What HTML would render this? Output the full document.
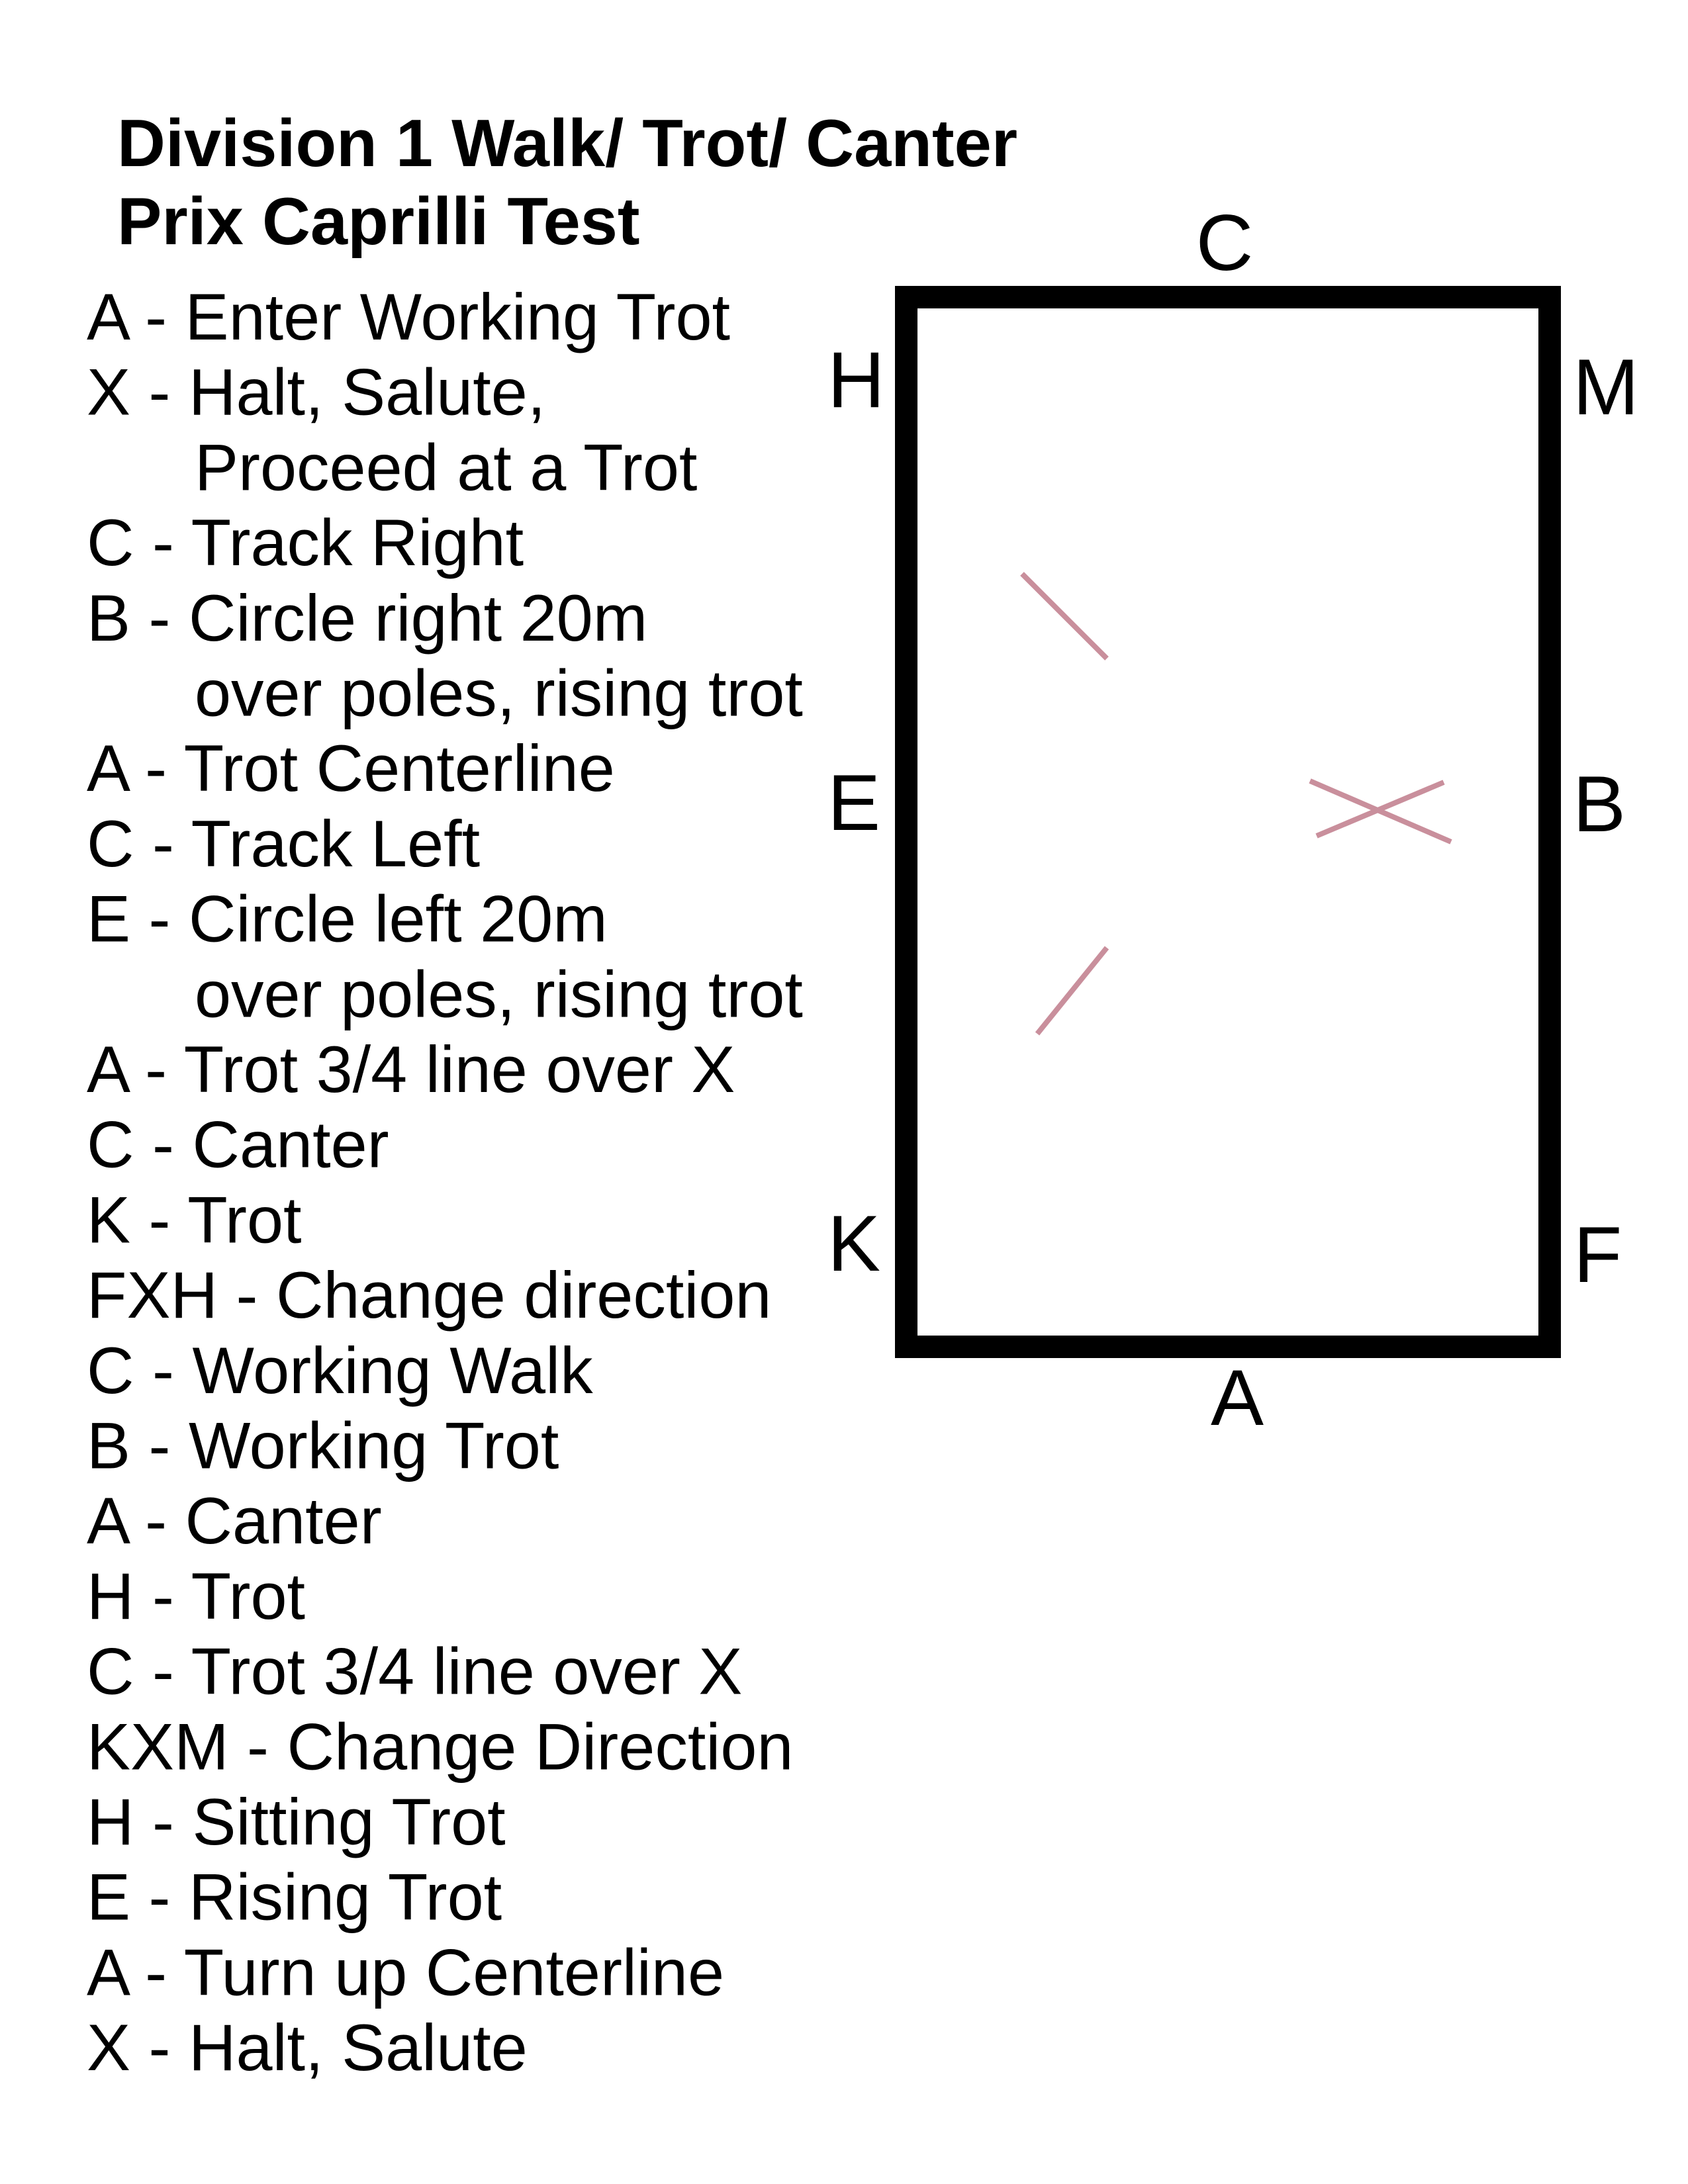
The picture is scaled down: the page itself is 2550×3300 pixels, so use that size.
<!DOCTYPE html>
<html><head><meta charset="utf-8"><style>html,body{margin:0;padding:0;background:#fff}svg{display:block}</style></head>
<body>
<svg width="2550" height="3300" viewBox="0 0 2550 3300" xmlns="http://www.w3.org/2000/svg">
<rect width="2550" height="3300" fill="#fff"/>
<g font-family="Liberation Sans, Arial, sans-serif" font-weight="bold" font-size="101" fill="#000">
<text x="177" y="251">Division 1 Walk/ Trot/ Canter</text>
<text x="177" y="369">Prix Caprilli Test</text>
</g>
<g font-family="Liberation Sans, Arial, sans-serif" font-size="99" fill="#000">
<text x="131" y="513.0">A - Enter Working Trot</text>
<text x="131" y="626.7">X - Halt, Salute,</text>
<text x="294" y="740.4">Proceed at a Trot</text>
<text x="131" y="854.1">C - Track Right</text>
<text x="131" y="967.8">B - Circle right 20m</text>
<text x="294" y="1081.5">over poles, rising trot</text>
<text x="131" y="1195.2">A - Trot Centerline</text>
<text x="131" y="1308.9">C - Track Left</text>
<text x="131" y="1422.6">E - Circle left 20m</text>
<text x="294" y="1536.3">over poles, rising trot</text>
<text x="131" y="1650.0">A - Trot 3/4 line over X</text>
<text x="131" y="1763.7">C - Canter</text>
<text x="131" y="1877.4">K - Trot</text>
<text x="131" y="1991.1">FXH - Change direction</text>
<text x="131" y="2104.8">C - Working Walk</text>
<text x="131" y="2218.5">B - Working Trot</text>
<text x="131" y="2332.2">A - Canter</text>
<text x="131" y="2445.9">H - Trot</text>
<text x="131" y="2559.6">C - Trot 3/4 line over X</text>
<text x="131" y="2673.3">KXM - Change Direction</text>
<text x="131" y="2787.0">H - Sitting Trot</text>
<text x="131" y="2900.7">E - Rising Trot</text>
<text x="131" y="3014.4">A - Turn up Centerline</text>
<text x="131" y="3128.1">X - Halt, Salute</text>
</g>
<rect x="1369" y="449" width="972" height="1586" fill="none" stroke="#000" stroke-width="34"/>
<g font-family="Liberation Sans, Arial, sans-serif" font-size="120" fill="#000">
<text x="1850" y="408" text-anchor="middle">C</text>
<text x="1250" y="615">H</text>
<text x="2376" y="626">M</text>
<text x="1250" y="1254">E</text>
<text x="2376" y="1256">B</text>
<text x="1250" y="1920">K</text>
<text x="2377" y="1937">F</text>
<text x="1869" y="2153" text-anchor="middle">A</text>
</g>
<g stroke="#c98f9c" stroke-width="8" fill="none">
<line x1="1544" y1="867" x2="1672" y2="995"/>
<line x1="1672" y1="1432" x2="1567" y2="1562"/>
<line x1="1979" y1="1180" x2="2192" y2="1272"/>
<line x1="1989" y1="1263" x2="2181" y2="1182"/>
</g>
</svg>
</body></html>
